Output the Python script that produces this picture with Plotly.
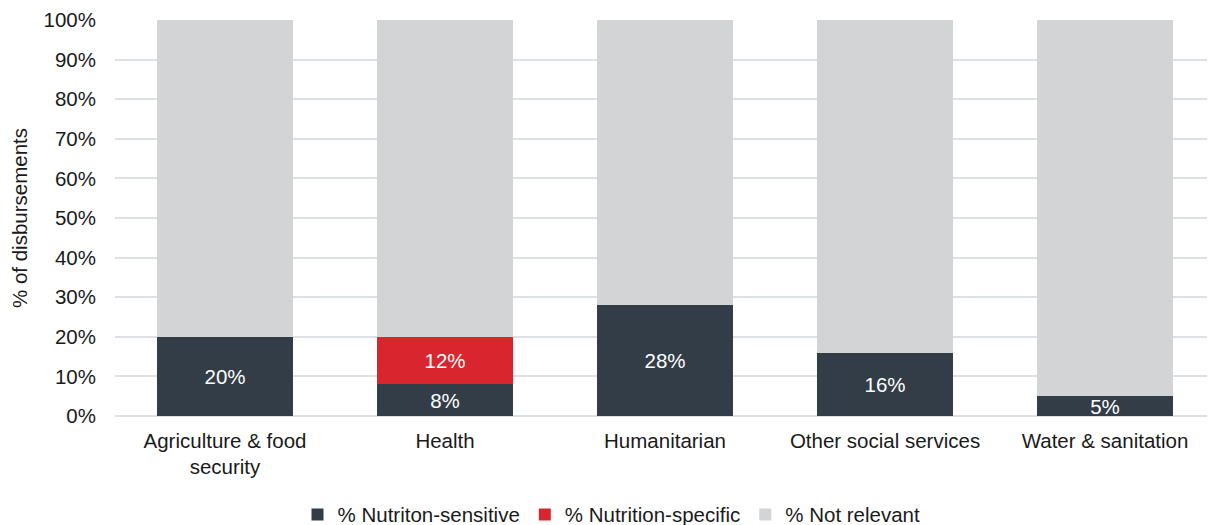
import plotly.graph_objects as go

categories = ["Agriculture & food<br>security", "Health", "Humanitarian", "Other social services", "Water & sanitation"]
sensitive = [20, 8, 28, 16, 5]
specific = [0, 12, 0, 0, 0]
not_relevant = [80, 80, 72, 84, 95]
y_ticks = [0, 10, 20, 30, 40, 50, 60, 70, 80, 90, 100]
y_tick_labels = [f"{v}%" for v in y_ticks]

font = "Liberation Sans, Arial, sans-serif"
FS = 20.5

def labels(vals):
    return [f"{v}%" if v > 0 else "" for v in vals]

fig = go.Figure()
fig.add_trace(go.Bar(name="% Nutriton-sensitive", x=categories, y=sensitive,
                     marker_color="#333d48", marker_line_width=0, text=labels(sensitive),
                     textposition="inside", insidetextanchor="middle",
                     textfont=dict(color="white", size=FS, family=font),
                     constraintext="none", hoverinfo="skip"))
fig.add_trace(go.Bar(name="% Nutrition-specific", x=categories, y=specific,
                     marker_color="#d9262e", marker_line_width=0, text=labels(specific),
                     textposition="inside", insidetextanchor="middle",
                     textfont=dict(color="white", size=FS, family=font),
                     constraintext="none", hoverinfo="skip"))
fig.add_trace(go.Bar(name="% Not relevant", x=categories, y=not_relevant,
                     marker_color="#d3d4d6", marker_line_width=0, textposition="none", hoverinfo="skip"))

fig.update_layout(
    barmode="stack",
    bargap=0.38,
    width=1207, height=517,
    margin=dict(l=107, r=0, t=12, b=109, autoexpand=False),
    plot_bgcolor="white", paper_bgcolor="white",
    font=dict(family=font, size=FS, color="#1a1a1a"),
    showlegend=True,
    legend=dict(orientation="h", x=0.5, xanchor="center", xref="container",
                y=0.02, yanchor="middle", yref="container",
                font=dict(size=FS), traceorder="normal", itemwidth=30),
)
fig.update_xaxes(showgrid=False, showline=False, ticks="", tickfont=dict(size=FS),
                 ticklabelstandoff=10)
fig.update_yaxes(range=[0, 100], tickvals=y_ticks, ticktext=y_tick_labels,
                 showgrid=True, gridcolor="#dde1e6", gridwidth=1.5,
                 zeroline=True, zerolinecolor="#dde1e6", zerolinewidth=1.5,
                 title=dict(text="% of disbursements", font=dict(size=FS), standoff=10),
                 tickfont=dict(size=FS), ticks="", ticklabelstandoff=18)

fig.write_html("out.html")
